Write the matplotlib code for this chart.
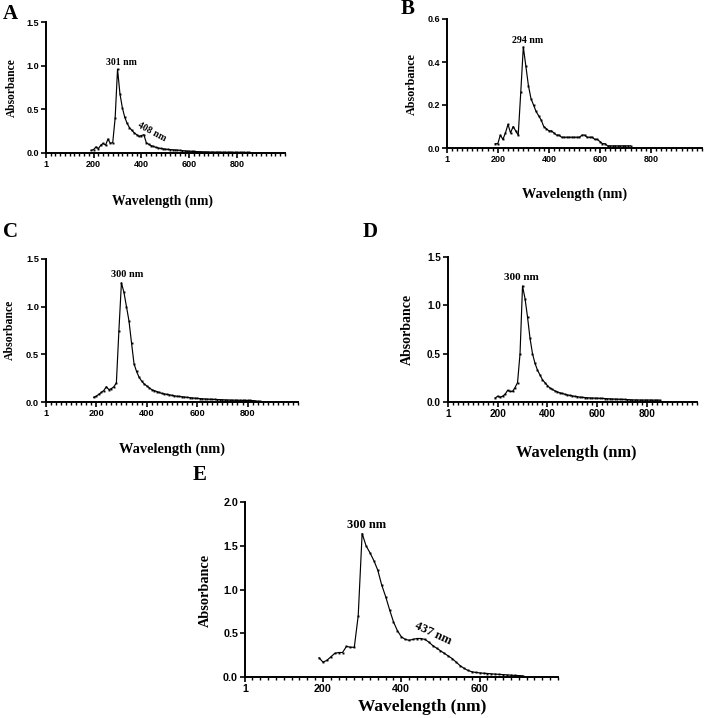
import numpy as np
import matplotlib
matplotlib.use('Agg')
import matplotlib.pyplot as plt
from matplotlib.ticker import MultipleLocator, FixedLocator

# wavelength grids (nm) and absorbance
wl_a = np.arange(190, 860, 10)
abs_a = [0.03, 0.04, 0.07, 0.05, 0.09, 0.11, 0.09, 0.16, 0.11, 0.12,
         0.40, 0.96, 0.68, 0.52, 0.41, 0.34, 0.29, 0.26, 0.23, 0.21,
         0.19, 0.20, 0.21, 0.12, 0.10, 0.085, 0.075, 0.065, 0.058, 0.052,
         0.048, 0.044, 0.041, 0.039, 0.037, 0.035, 0.033, 0.030, 0.028, 0.025,
         0.022, 0.020, 0.019, 0.018, 0.016, 0.015, 0.014, 0.013, 0.012, 0.011,
         0.010, 0.010, 0.009, 0.009, 0.009, 0.008, 0.008, 0.008, 0.008, 0.007,
         0.007, 0.007, 0.007, 0.006, 0.006, 0.006, 0.006]

wl_b = np.arange(190, 730, 10)
abs_b = [0.02, 0.02, 0.06, 0.04, 0.07, 0.11, 0.07, 0.10, 0.08, 0.06,
         0.26, 0.47, 0.38, 0.29, 0.23, 0.20, 0.17, 0.15, 0.13, 0.10,
         0.09, 0.08, 0.08, 0.07, 0.06, 0.06, 0.05, 0.05, 0.05, 0.05,
         0.05, 0.05, 0.05, 0.05, 0.06, 0.06, 0.05, 0.05, 0.05, 0.04,
         0.04, 0.03, 0.02, 0.02, 0.01, 0.01, 0.01, 0.01, 0.01, 0.01,
         0.01, 0.01, 0.01, 0.01]

wl_c = np.arange(190, 860, 10)
abs_c = [0.05, 0.06, 0.08, 0.10, 0.12, 0.16, 0.13, 0.14, 0.16, 0.20,
         0.75, 1.25, 1.15, 1.00, 0.85, 0.62, 0.40, 0.32, 0.26, 0.22,
         0.19, 0.17, 0.15, 0.13, 0.12, 0.11, 0.10, 0.09, 0.085, 0.08,
         0.075, 0.07, 0.065, 0.06, 0.058, 0.055, 0.052, 0.049, 0.046, 0.043,
         0.040, 0.038, 0.036, 0.034, 0.032, 0.030, 0.029, 0.028, 0.027, 0.026,
         0.025, 0.024, 0.022, 0.021, 0.020, 0.019, 0.019, 0.018, 0.018, 0.017,
         0.017, 0.016, 0.016, 0.015, 0.012, 0.008, 0.006]

wl_d = np.arange(190, 860, 10)
abs_d = [0.04, 0.06, 0.05, 0.06, 0.08, 0.12, 0.11, 0.11, 0.15, 0.20,
         0.50, 1.20, 1.07, 0.88, 0.66, 0.50, 0.40, 0.33, 0.28, 0.23,
         0.20, 0.17, 0.145, 0.13, 0.115, 0.105, 0.095, 0.088, 0.080, 0.073,
         0.068, 0.063, 0.058, 0.055, 0.050, 0.048, 0.046, 0.044, 0.042, 0.041,
         0.040, 0.039, 0.038, 0.037, 0.036, 0.034, 0.033, 0.031, 0.030, 0.029,
         0.028, 0.027, 0.026, 0.025, 0.024, 0.022, 0.021, 0.021, 0.020, 0.020,
         0.020, 0.020, 0.020, 0.019, 0.019, 0.019, 0.019]

wl_e = np.arange(190, 720, 10)
abs_e = [0.22, 0.17, 0.19, 0.23, 0.27, 0.28, 0.28, 0.35, 0.34, 0.34,
         0.70, 1.64, 1.50, 1.42, 1.33, 1.22, 1.05, 0.92, 0.77, 0.63,
         0.53, 0.46, 0.43, 0.42, 0.43, 0.44, 0.44, 0.43, 0.40, 0.36,
         0.33, 0.30, 0.27, 0.24, 0.21, 0.17, 0.13, 0.10, 0.075, 0.06,
         0.052, 0.047, 0.043, 0.040, 0.036, 0.033, 0.030, 0.027, 0.024, 0.021,
         0.018, 0.016, 0.014]

xticks_full = [1, 200, 400, 600, 800]
xticks_e = [1, 200, 400, 600]

W, H = 710, 718
SERIF = 'Liberation Serif'
SANS = 'Liberation Sans'

fig = plt.figure(figsize=(W / 100, H / 100), dpi=100)


def fx(x):
    return x / W


def fy(y):
    return 1 - y / H


def panel(box, wl, ab, xmax, xticks, ymax, ystep, letter, letter_xy, ylab_xy, xlab_xy,
          lab_fs, xlab_fs, tick_fs, peaks, peak_fs):
    l, r, t, b = box
    ax = fig.add_axes([fx(l), fy(b), (r - l) / W, (b - t) / H])
    ax.plot(wl, ab, color='black', lw=0.85, marker='s', ms=1.4, mew=0)
    ax.set_xlim(1, xmax)
    ax.set_ylim(0, ymax)
    for s in ['top', 'right']:
        ax.spines[s].set_visible(False)
    for s in ['left', 'bottom']:
        ax.spines[s].set_linewidth(1.4)
    ax.xaxis.set_major_locator(FixedLocator(xticks))
    ax.xaxis.set_minor_locator(FixedLocator(np.arange(20, xmax + 1, 20)))
    ax.yaxis.set_major_locator(MultipleLocator(ystep))
    ax.tick_params(axis='both', which='major', direction='out', length=3.5, width=1.2)
    ax.tick_params(axis='x', which='minor', direction='out', length=2.2, width=1.0)
    ax.tick_params(axis='both', pad=1.5)
    ax.set_xticklabels([str(v) for v in xticks])
    ax.set_yticklabels([f'{v:.1f}' for v in ax.get_yticks()])
    for lab in ax.get_xticklabels() + ax.get_yticklabels():
        lab.set_fontfamily(SANS)
        lab.set_fontweight('bold')
        lab.set_fontsize(tick_fs)
    for txt, x, y, rot in peaks:
        ax.text(x, y, txt, ha='center', va='center', rotation=rot,
                fontfamily=SERIF, fontweight='bold', fontsize=peak_fs)
    fig.text(fx(letter_xy[0]), fy(letter_xy[1]), letter, ha='center', va='center',
             fontfamily=SERIF, fontweight='bold', fontsize=15)
    fig.text(fx(ylab_xy[0]), fy(ylab_xy[1]), 'Absorbance', ha='center', va='center',
             rotation=90, fontfamily=SERIF, fontweight='bold', fontsize=lab_fs)
    fig.text(fx(xlab_xy[0]), fy(xlab_xy[1]), 'Wavelength (nm)', ha='center', va='center',
             fontfamily=SERIF, fontweight='bold', fontsize=xlab_fs)
    return ax


panel((46, 285, 22, 153), wl_a, abs_a, 1000, xticks_full, 1.5, 0.5, 'A', (10, 14), (12, 88), (163, 201),
      8.3, 9.8, 6.5, [('301 nm', 315, 1.04, 0), ('408 nm', 445, 0.24, -28)], 7)
panel((447, 702, 19, 148), wl_b, abs_b, 1000, xticks_full, 0.6, 0.2, 'B', (408, 9), (412, 84), (575, 194),
      8.7, 10.3, 6.5, [('294 nm', 318, 0.50, 0)], 7.2)
panel((46, 298, 259, 402), wl_c, abs_c, 1000, xticks_full, 1.5, 0.5, 'C', (11, 232), (10, 330), (172, 449),
      8.5, 10.4, 6.7, [('300 nm', 322, 1.34, 0)], 7.4)
panel((448, 697, 257, 402), wl_d, abs_d, 1000, xticks_full, 1.5, 0.5, 'D', (370, 232), (407, 329), (576, 453),
      10, 11.8, 7.2, [('300 nm', 297, 1.29, 0)], 8)
panel((245, 558, 502, 677), wl_e, abs_e, 800, xticks_e, 2.0, 0.5, 'E', (200, 475), (205, 590), (422, 707),
      10.3, 12.5, 7.7, [('300 nm', 312, 1.74, 0), ('437 nm', 480, 0.50, -25)], 9)

fig.savefig('out.png', dpi=100)
